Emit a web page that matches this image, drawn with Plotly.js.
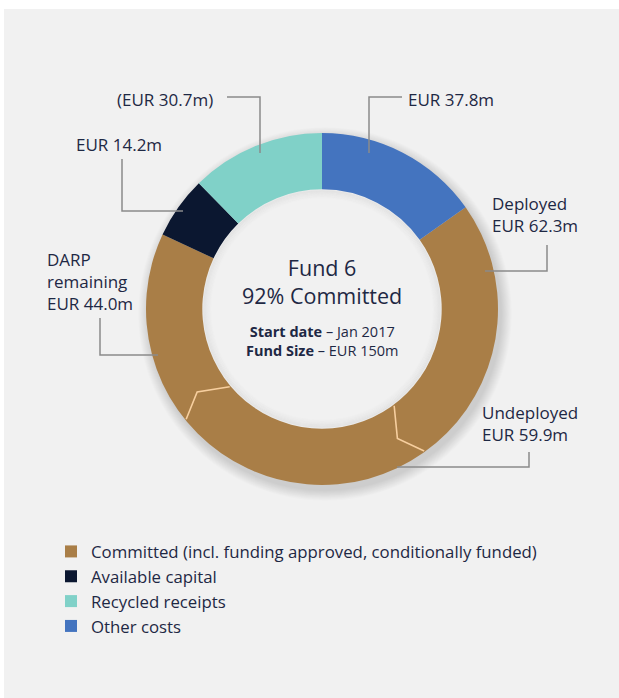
<!DOCTYPE html>
<html>
<head>
<meta charset="utf-8">
<script src="https://cdn.plot.ly/plotly-3.0.1.min.js"></script>
<style>html,body{margin:0;padding:0;background:#fff;}#chart{width:619px;height:698px;}</style>
</head>
<body>
<div id="chart"></div>
<script>
// ---- data ----
const categories = ["Committed (incl. funding approved, conditionally funded)", "Available capital", "Recycled receipts", "Other costs"];
const committedParts = ["Deployed", "Undeployed", "DARP remaining"];
const committedValues = [62.3, 59.9, 44.0];
const availableValue = 14.2;
const recycledValue = 30.7;
const otherValue = 37.8;
const colors = ["#a97e47", "#0b1730", "#80d1c8", "#4474bf"];
const centerTitle = ["Fund 6", "92% Committed"];
const centerInfo = [["Start date", "Jan 2017"], ["Fund Size", "EUR 150m"]];

// ---- derived ----
const committedTotal = committedValues.reduce((a, b) => a + b, 0);
const values = [committedTotal, availableValue, recycledValue, otherValue];
const total = values.reduce((a, b) => a + b, 0);
const fmt = v => "EUR " + v.toFixed(1) + "m";

// ---- geometry ----
const W = 619, H = 698;
const CX = 322, CY = 309, R = 176;
const HOLE = 0.68;
const RIN = R * HOLE;
const px = x => x / W;
const py = y => 1 - y / H;
const BG = "#f1f1f1";

const rotation = otherValue / total * 360; // committed slice starts where "other costs" ends

function polar(angDeg, r) {
  const a = angDeg * Math.PI / 180;
  return [CX + r * Math.sin(a), CY - r * Math.cos(a)];
}
function circle(cx, cy, r, fill, line, layer) {
  return {type: "circle", xref: "paper", yref: "paper",
    x0: px(cx - r), x1: px(cx + r), y0: py(cy + r), y1: py(cy - r),
    fillcolor: fill, line: line || {width: 0}, layer: layer || "below"};
}

const shapes = [];
// panel background
shapes.push({type: "rect", xref: "paper", yref: "paper", x0: px(4), x1: 1, y0: 0, y1: py(9),
  fillcolor: BG, line: {width: 0}, layer: "below"});

// soft drop shadow behind the ring
for (let k = 12; k >= 1; k--) {
  shapes.push(circle(CX + 3, CY + 5, R + k * 0.9, "rgba(0,0,0,0.013)"));
}
// restore hole background
shapes.push(circle(CX, CY, RIN + 2, BG));
// inner shadow inside the hole
for (let k = 1; k <= 8; k++) {
  shapes.push(circle(CX, CY, RIN - k * 1.1, "rgba(0,0,0,0)",
    {width: 1.6, color: "rgba(0,0,0," + (0.045 - k * 0.005).toFixed(4) + ")"}, "above"));
}

// separators inside the committed slice (chevron-like pale lines)
let cum = rotation;
for (let i = 0; i < committedValues.length - 1; i++) {
  cum += committedValues[i] / total * 360;
  const p1 = polar(cum - 1.5, RIN + 1);
  const p2 = polar(cum + 5, (RIN + R) / 2 + 2);
  const p3 = polar(cum - 0.5, R - 1);
  shapes.push({type: "path", xref: "paper", yref: "paper",
    path: `M${px(p1[0])},${py(p1[1])} L${px(p2[0])},${py(p2[1])} L${px(p3[0])},${py(p3[1])}`,
    line: {color: "#f7cf9f", width: 1.6}, layer: "above"});
}

// leader lines
const lc = {color: "#8a8a8a", width: 1.5};
function poly(pts) {
  const d = pts.map((p, i) => (i ? "L" : "M") + px(p[0]) + "," + py(p[1])).join(" ");
  shapes.push({type: "path", xref: "paper", yref: "paper", path: d, line: lc, layer: "above"});
}
poly([[369, 153], [369, 97], [402, 97]]);        // other costs
poly([[227, 97], [260, 97], [260, 153]]);        // recycled
poly([[122, 159], [122, 211], [183, 211]]);      // available
poly([[100, 318], [100, 355], [158, 355]]);      // DARP
poly([[547, 245], [547, 271], [485, 271]]);      // deployed
poly([[529, 452], [529, 467], [397, 467]]);      // undeployed

const tc = "#1e2844";
const FONT = "Open Sans, Noto Sans, sans-serif";
function ann(text, x, y, opts) {
  return Object.assign({text: text, xref: "paper", yref: "paper", x: px(x), y: py(y),
    xanchor: "left", yanchor: "middle", align: "left", showarrow: false,
    font: {family: FONT, size: 17, color: tc}}, opts || {});
}

const annotations = [
  ann(fmt(otherValue), 406, 99),
  ann("(" + fmt(recycledValue) + ")", 115, 100),
  ann(fmt(availableValue), 74, 144),
  ann("DARP<br>remaining<br>" + fmt(committedValues[2]), 45, 281),
  ann(committedParts[0] + "<br>" + fmt(committedValues[0]), 490, 215),
  ann(committedParts[1] + "<br>" + fmt(committedValues[1]), 480, 423),
  ann(centerTitle.join("<br>"), CX, 281, {xanchor: "center", align: "center",
    font: {family: FONT, size: 21.5, color: tc}}),
  ann(centerInfo.map(r => "<b>" + r[0] + "</b> – " + r[1]).join("<br>"), CX, 341,
    {xanchor: "center", align: "center", font: {family: FONT, size: 14.5, color: tc}})
];

const trace = {
  type: "pie",
  labels: categories,
  values: values,
  sort: false,
  direction: "clockwise",
  rotation: rotation,
  hole: HOLE,
  textinfo: "none",
  hoverinfo: "label+value",
  marker: {colors: colors, line: {width: 0}},
  domain: {x: [px(CX - R), px(CX + R)], y: [py(CY + R), py(CY - R)]},
  showlegend: true
};

const layout = {
  width: W, height: H,
  margin: {l: 0, r: 0, t: 0, b: 0},
  paper_bgcolor: "#ffffff",
  font: {family: FONT, color: tc},
  showlegend: true,
  legend: {x: px(51), xanchor: "left", y: py(534), yanchor: "top",
    orientation: "v", traceorder: "normal", bgcolor: "rgba(0,0,0,0)",
    font: {family: FONT, size: 16.8, color: tc}},
  shapes: shapes,
  annotations: annotations
};

Plotly.newPlot("chart", [trace], layout, {displayModeBar: false, staticPlot: true});
</script>
</body>
</html>
